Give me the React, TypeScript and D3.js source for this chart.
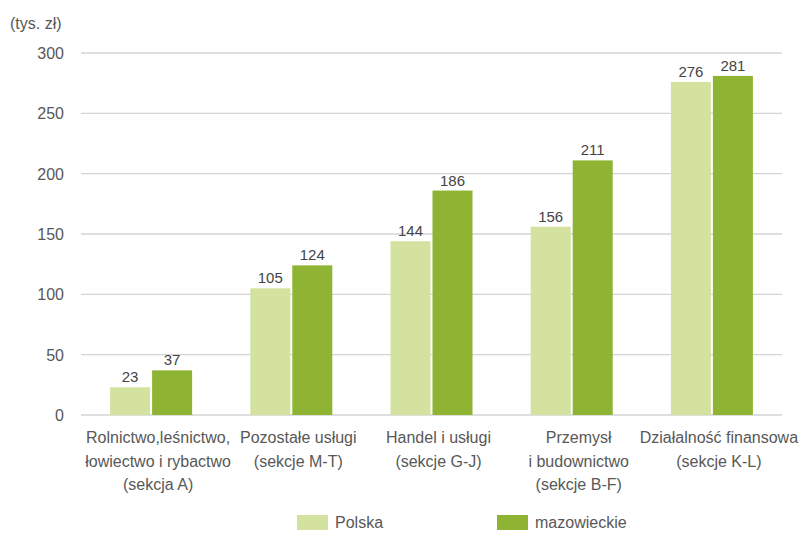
import React from "react";
import * as d3 from "d3";

const categories: string[][] = [
  ["Rolnictwo,leśnictwo,", "łowiectwo i rybactwo", "(sekcja A)"],
  ["Pozostałe usługi", "(sekcje M-T)"],
  ["Handel i usługi", "(sekcje G-J)"],
  ["Przemysł", "i budownictwo", "(sekcje B-F)"],
  ["Działalność finansowa", "(sekcje K-L)"],
];
const polska = [23, 105, 144, 156, 276];
const mazowieckie = [37, 124, 186, 211, 281];
const seriesNames = ["Polska", "mazowieckie"];
const yTicks = [0, 50, 100, 150, 200, 250, 300];
const unitLabel = "(tys. zł)";

const W = 805;
const H = 534;
const colors = ["#d3e39f", "#8fb434"];
const font = "'Liberation Sans', Arial, sans-serif";
const textColor = "#585858";

export default function App() {
  const left = 81, right = 782, top = 53, bottom = 415;
  const x = d3
    .scaleBand<number>()
    .domain(categories.map((_, i) => i))
    .range([left, right])
    .paddingInner(0.415)
    .paddingOuter(0.2075);
  const y = d3.scaleLinear().domain([0, 300]).range([bottom, top]);
  const bw = x.bandwidth();
  const gap = 2;
  const barW = (bw - gap) / 2;
  const series = [polska, mazowieckie];

  return (
    <svg
      width={W}
      height={H}
      style={{ position: "absolute", left: 0, top: 0, background: "#fff" }}
      fontFamily={font}
    >
      <rect width={W} height={H} fill="#fff" />
      <text x={10} y={29} fontSize={16} fill={textColor}>
        {unitLabel}
      </text>
      {yTicks.map((t) => (
        <g key={t}>
          <line x1={left} x2={right} y1={y(t)} y2={y(t)} stroke="#d4d4d4" strokeWidth={1.3} />
          <text x={64} y={y(t) + 6} fontSize={16} fill={textColor} textAnchor="end">
            {t}
          </text>
        </g>
      ))}
      {categories.map((lines, i) => {
        const x0 = x(i)!;
        return (
          <g key={i}>
            {series.map((s, j) => {
              const bx = x0 + j * (barW + gap);
              return (
                <g key={j}>
                  <rect x={bx} y={y(s[i])} width={barW} height={bottom - y(s[i])} fill={colors[j]} />
                  <text
                    x={bx + barW / 2}
                    y={y(s[i]) - 5}
                    fontSize={15}
                    fill="#444"
                    textAnchor="middle"
                  >
                    {s[i]}
                  </text>
                </g>
              );
            })}
            {lines.map((l, k) => (
              <text
                key={k}
                x={x0 + bw / 2 + 7}
                y={443 + k * 23.5}
                fontSize={16}
                fill={textColor}
                textAnchor="middle"
              >
                {l}
              </text>
            ))}
          </g>
        );
      })}
      {seriesNames.map((n, j) => {
        const lx = j === 0 ? 297 : 497;
        return (
          <g key={n}>
            <rect x={lx} y={515} width={31} height={15} fill={colors[j]} />
            <text x={lx + 38} y={528} fontSize={16} fill={textColor}>
              {n}
            </text>
          </g>
        );
      })}
    </svg>
  );
}
